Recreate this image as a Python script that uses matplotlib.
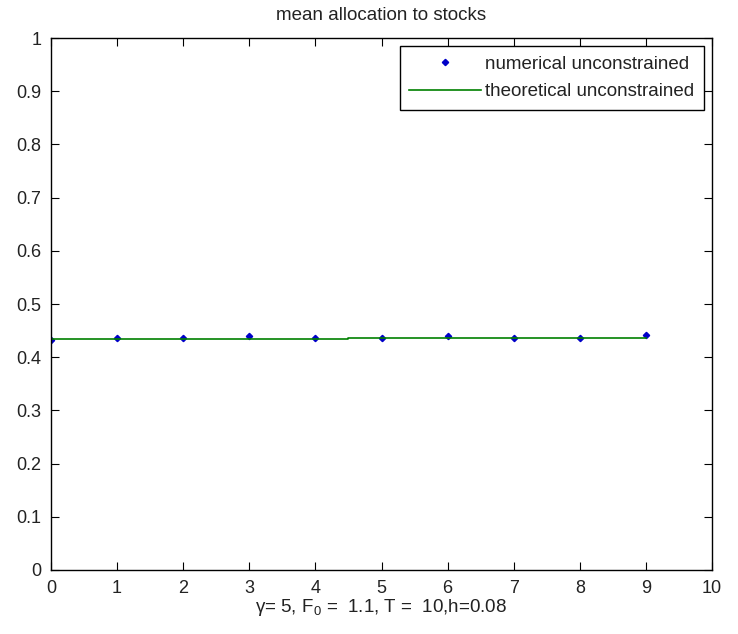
import matplotlib
matplotlib.use("Agg")
import matplotlib.pyplot as plt

plt.rcParams['font.family'] = ['Liberation Sans', 'DejaVu Sans']
plt.rcParams['mathtext.fontset'] = 'custom'
plt.rcParams['mathtext.rm'] = 'Liberation Sans'
plt.rcParams['mathtext.it'] = 'Liberation Sans'

# numerical solution at each period
periods = [0, 1, 2, 3, 4, 5, 6, 7, 8, 9]
numerical = [0.432, 0.437, 0.436, 0.440, 0.436, 0.437, 0.440, 0.437, 0.437, 0.441]
# theoretical unconstrained allocation (small jump half way)
theo_t = [0, 4.5, 4.5, 9]
theo_val = [0.434, 0.434, 0.436, 0.436]

xticks = list(range(0, 11))
yticks = [0, 0.1, 0.2, 0.3, 0.4, 0.5, 0.6, 0.7, 0.8, 0.9, 1]
yticklabels = ['0', '0.1', '0.2', '0.3', '0.4', '0.5', '0.6', '0.7', '0.8', '0.9', '1']

fig = plt.figure(figsize=(7.38, 6.34), dpi=100)
ax = fig.add_axes([0.069, 0.101, 0.896, 0.839])
ax.plot(periods, numerical, linestyle='none', marker='D', markersize=3.2,
        color='#0000c8', label='numerical unconstrained')
ax.plot(theo_t, theo_val, color='#008000', lw=1.2, label='theoretical unconstrained')

ax.set_xlim(0, 10)
ax.set_ylim(0, 1)
ax.set_xticks(xticks)
ax.set_yticks(yticks)
ax.set_yticklabels(yticklabels)
ax.tick_params(direction='in', top=True, right=True, length=6, labelsize=13,
               pad=7, labelcolor='#222222')
for s in ax.spines.values():
    s.set_linewidth(1.0)

ax.set_title('mean allocation to stocks', fontsize=13.5, pad=13, color='#222222')
ax.set_xlabel(r'$\gamma$= 5, F$_0$ =  1.1, T =  10,h=0.08', fontsize=13.5,
              labelpad=0, color='#222222')

leg = ax.legend(loc='upper right', fontsize=13.5, fancybox=False, edgecolor='black',
                framealpha=1, borderaxespad=0.45, handlelength=3.8, handletextpad=0.25,
                labelspacing=0.55, borderpad=0.5)
leg.get_frame().set_linewidth(1.0)
for t in leg.get_texts():
    t.set_color('#222222')

fig.savefig('out.png', dpi=100)
